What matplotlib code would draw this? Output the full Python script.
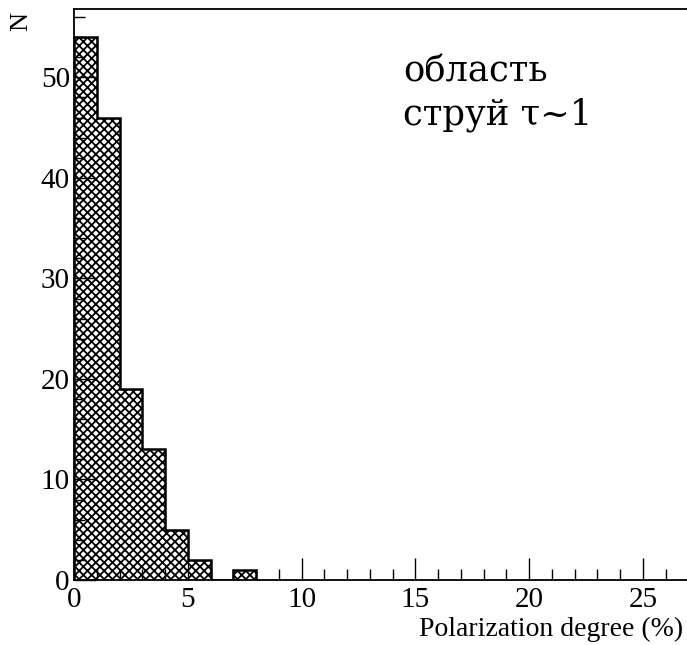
import matplotlib
matplotlib.use("Agg")
import matplotlib.pyplot as plt
from matplotlib.ticker import MultipleLocator

# histogram of polarization degree, 1 % bins
bin_edges = [0, 1, 2, 3, 4, 5, 6, 7, 8]
counts = [54, 46, 19, 13, 5, 2, 0, 1]

x_major = [0, 5, 10, 15, 20, 25]
y_major = [0, 10, 20, 30, 40, 50]

plt.rcParams["hatch.linewidth"] = 1.3

W, H = 687, 645
fig = plt.figure(figsize=(W / 100, H / 100), dpi=100)
# axes: x=0 at 74 px, y=0 at 580 px, top frame at 9 px
ax = fig.add_axes([74 / W, 1 - 580 / H, 614.5 / W, 571 / H])

ax.stairs(counts, bin_edges, fill=True, facecolor="white", edgecolor="black",
          hatch="xxxx", linewidth=0)
ax.stairs(counts, bin_edges, fill=False, color="black", linewidth=1.8)

ax.set_xlim(0, 27)
ax.set_ylim(0, 56.8)
ax.set_xticks(x_major)
ax.set_yticks(y_major)
ax.xaxis.set_minor_locator(MultipleLocator(1))
ax.yaxis.set_minor_locator(MultipleLocator(2))

for side in ["left", "bottom", "top"]:
    ax.spines[side].set_linewidth(1.3)
ax.spines["right"].set_visible(False)

ax.tick_params(which="both", direction="in", top=False, right=False, width=1.0)
ax.tick_params(which="major", length=16, labelsize=21)
ax.tick_params(axis="x", which="major", pad=5)
ax.tick_params(axis="y", which="major", pad=3)
ax.tick_params(which="minor", length=8)
for lbl in ax.get_xticklabels() + ax.get_yticklabels():
    lbl.set_family("Liberation Serif")

fig.text(683 / W, 1 - 629 / H, "Polarization degree (%)", ha="right", va="center",
         fontsize=20, family="Liberation Serif")
fig.text(21 / W, 1 - 21 / H, "N", ha="center", va="center", rotation=90,
         fontsize=19, family="Liberation Serif")

fig.text(403 / W, 1 - 82 / H, "область", ha="left", va="baseline",
         fontsize=25.5, family="DejaVu Serif")
fig.text(403 / W, 1 - 125 / H, "струй τ~1", ha="left", va="baseline",
         fontsize=25.5, family="DejaVu Serif")

fig.savefig("out.png", dpi=100, facecolor="white")
